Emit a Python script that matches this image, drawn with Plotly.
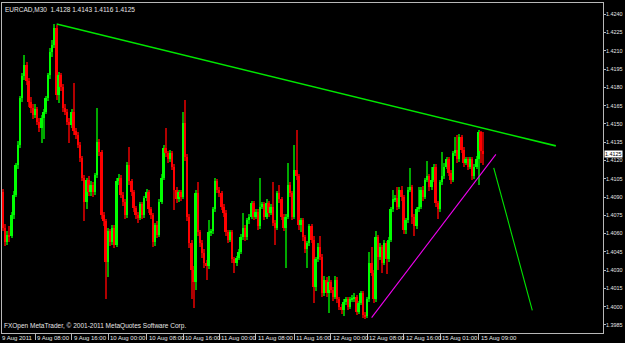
import numpy as np
import plotly.graph_objects as go

# EURCAD M30 bars (9 Aug 2011 -> 15 Aug 2011)
opens = [1.4094,1.4065,1.4053,1.4059,1.4058,1.4075,1.4092,1.4116,1.4133,1.4171,
 1.4189,1.4198,1.4185,1.4168,1.4163,1.4157,1.4162,1.4152,1.4147,1.4155,
 1.4160,1.4171,1.4190,1.4209,1.4215,1.4229,1.4174,1.4190,1.4180,1.4163,
 1.4160,1.4152,1.4149,1.4160,1.4144,1.4141,1.4133,1.4122,1.4106,1.4086,
 1.4104,1.4094,1.4100,1.4094,1.4108,1.4135,1.4127,1.4075,1.4070,1.4037,
 1.4062,1.4053,1.4065,1.4051,1.4103,1.4106,1.4092,1.4086,1.4075,1.4116,
 1.4103,1.4094,1.4081,1.4075,1.4073,1.4084,1.4075,1.4089,1.4094,1.4080,
 1.4075,1.4053,1.4067,1.4059,1.4086,1.4106,1.4130,1.4126,1.4121,1.4126,
 1.4115,1.4096,1.4088,1.4094,1.4090,1.4151,1.4123,1.4074,1.4052,1.4030,
 1.4020,1.4093,1.4061,1.4052,1.4044,1.4036,1.4033,1.4061,1.4062,1.4080,
 1.4103,1.4096,1.4093,1.4082,1.4077,1.4061,1.4055,1.4061,1.4039,1.4036,
 1.4040,1.4045,1.4057,1.4065,1.4057,1.4071,1.4074,1.4085,1.4074,1.4078,
 1.4066,1.4082,1.4084,1.4074,1.4085,1.4077,1.4082,1.4069,1.4065,1.4093,
 1.4088,1.4074,1.4065,1.4074,1.4100,1.4093,1.4074,1.4112,1.4107,1.4067,
 1.4071,1.4057,1.4047,1.4052,1.4066,1.4055,1.4016,1.4039,1.4049,1.4041,
 1.4011,1.4022,1.4011,1.4020,1.4014,1.4008,1.4022,1.4006,1.4000,1.3997,
 1.4004,1.4006,1.4000,1.4006,1.4007,1.4008,1.3996,1.4003,1.4011,1.3993,
 1.3992,1.4006,1.4036,1.4028,1.4006,1.4057,1.4041,1.4049,1.4036,1.4052,
 1.4039,1.4055,1.4080,1.4088,1.4089,1.4082,1.4096,1.4090,1.4063,1.4071,
 1.4096,1.4098,1.4074,1.4066,1.4080,1.4082,1.4096,1.4090,1.4104,1.4107,
 1.4098,1.4104,1.4115,1.4085,1.4080,1.4102,1.4107,1.4115,1.4121,1.4110,
 1.4104,1.4126,1.4129,1.4121,1.4139,1.4129,1.4118,1.4121,1.4115,1.4121,
 1.4107,1.4115,1.4121,1.4143,1.4128]

closes = [1.4065,1.4053,1.4059,1.4058,1.4075,1.4092,1.4116,1.4133,1.4171,1.4189,
 1.4198,1.4185,1.4168,1.4163,1.4157,1.4162,1.4152,1.4147,1.4155,1.4160,
 1.4171,1.4190,1.4209,1.4215,1.4229,1.4174,1.4190,1.4180,1.4163,1.4160,
 1.4152,1.4149,1.4160,1.4144,1.4141,1.4133,1.4122,1.4106,1.4086,1.4104,
 1.4094,1.4100,1.4094,1.4108,1.4135,1.4127,1.4075,1.4070,1.4037,1.4062,
 1.4053,1.4065,1.4051,1.4103,1.4106,1.4092,1.4086,1.4075,1.4116,1.4103,
 1.4094,1.4081,1.4075,1.4073,1.4084,1.4075,1.4089,1.4094,1.4080,1.4075,
 1.4053,1.4067,1.4059,1.4086,1.4106,1.4130,1.4126,1.4121,1.4126,1.4115,
 1.4096,1.4088,1.4094,1.4090,1.4151,1.4123,1.4074,1.4052,1.4030,1.4020,
 1.4093,1.4061,1.4052,1.4044,1.4036,1.4033,1.4061,1.4062,1.4080,1.4103,
 1.4096,1.4093,1.4082,1.4077,1.4061,1.4055,1.4061,1.4039,1.4036,1.4040,
 1.4045,1.4057,1.4065,1.4057,1.4071,1.4074,1.4085,1.4074,1.4078,1.4066,
 1.4082,1.4084,1.4074,1.4085,1.4077,1.4082,1.4069,1.4065,1.4093,1.4088,
 1.4074,1.4065,1.4074,1.4100,1.4093,1.4074,1.4112,1.4107,1.4067,1.4071,
 1.4057,1.4047,1.4052,1.4066,1.4055,1.4016,1.4039,1.4049,1.4041,1.4011,
 1.4022,1.4011,1.4020,1.4014,1.4008,1.4022,1.4006,1.4000,1.3997,1.4004,
 1.4006,1.4000,1.4006,1.4007,1.4008,1.3996,1.4003,1.4011,1.3993,1.3992,
 1.4006,1.4036,1.4028,1.4006,1.4057,1.4041,1.4049,1.4036,1.4052,1.4039,
 1.4055,1.4080,1.4088,1.4089,1.4082,1.4096,1.4090,1.4063,1.4071,1.4096,
 1.4098,1.4074,1.4066,1.4080,1.4082,1.4096,1.4090,1.4104,1.4107,1.4098,
 1.4104,1.4115,1.4085,1.4080,1.4102,1.4107,1.4115,1.4121,1.4110,1.4104,
 1.4126,1.4129,1.4121,1.4139,1.4129,1.4118,1.4121,1.4115,1.4121,1.4107,
 1.4115,1.4121,1.4143,1.4128,1.4125]

highs = [1.4097,1.4068,1.4062,1.4066,1.4078,1.4095,1.4118,1.4136,1.4173,1.4192,
 1.4207,1.4201,1.4188,1.4172,1.4166,1.4166,1.4164,1.4155,1.4157,1.4162,
 1.4173,1.4192,1.4212,1.4219,1.4232,1.4231,1.4193,1.4192,1.4183,1.4166,
 1.4162,1.4155,1.4162,1.4184,1.4147,1.4143,1.4135,1.4124,1.4108,1.4106,
 1.4107,1.4103,1.4102,1.4110,1.4163,1.4138,1.4129,1.4078,1.4072,1.4065,
 1.4064,1.4067,1.4067,1.4106,1.4109,1.4108,1.4094,1.4088,1.4119,1.4131,
 1.4105,1.4096,1.4083,1.4078,1.4086,1.4086,1.4091,1.4097,1.4096,1.4082,
 1.4077,1.4069,1.4070,1.4088,1.4109,1.4133,1.4147,1.4128,1.4129,1.4128,
 1.4117,1.4098,1.4096,1.4096,1.4160,1.4170,1.4125,1.4076,1.4055,1.4033,
 1.4096,1.4102,1.4063,1.4055,1.4047,1.4038,1.4071,1.4064,1.4082,1.4106,
 1.4105,1.4098,1.4095,1.4084,1.4079,1.4063,1.4063,1.4063,1.4041,1.4042,
 1.4047,1.4060,1.4077,1.4067,1.4073,1.4076,1.4087,1.4087,1.4080,1.4080,
 1.4106,1.4086,1.4086,1.4088,1.4087,1.4084,1.4102,1.4071,1.4095,1.4100,
 1.4090,1.4076,1.4076,1.4118,1.4102,1.4095,1.4133,1.4145,1.4109,1.4073,
 1.4073,1.4059,1.4054,1.4068,1.4068,1.4058,1.4041,1.4052,1.4058,1.4043,
 1.4025,1.4024,1.4025,1.4022,1.4016,1.4025,1.4024,1.4008,1.4002,1.4006,
 1.4008,1.4008,1.4008,1.4010,1.4011,1.4010,1.4005,1.4013,1.4013,1.3996,
 1.4008,1.4045,1.4049,1.4030,1.4062,1.4059,1.4052,1.4051,1.4055,1.4054,
 1.4057,1.4082,1.4096,1.4092,1.4098,1.4098,1.4099,1.4092,1.4073,1.4098,
 1.4114,1.4100,1.4076,1.4082,1.4098,1.4098,1.4099,1.4106,1.4120,1.4109,
 1.4115,1.4117,1.4117,1.4087,1.4104,1.4127,1.4118,1.4123,1.4123,1.4112,
 1.4128,1.4139,1.4141,1.4142,1.4141,1.4131,1.4123,1.4123,1.4123,1.4123,
 1.4117,1.4124,1.4145,1.4144,1.4143]

lows = [1.4062,1.4050,1.4051,1.4053,1.4056,1.4072,1.4090,1.4113,1.4130,1.4168,
 1.4186,1.4182,1.4164,1.4159,1.4154,1.4155,1.4149,1.4143,1.4134,1.4138,
 1.4158,1.4169,1.4187,1.4205,1.4212,1.4170,1.4167,1.4177,1.4160,1.4157,
 1.4149,1.4134,1.4147,1.4141,1.4138,1.4130,1.4119,1.4103,1.4070,1.4080,
 1.4091,1.4091,1.4090,1.4092,1.4106,1.4124,1.4072,1.4066,1.4006,1.4024,
 1.4050,1.4051,1.4048,1.4049,1.4100,1.4089,1.4083,1.4072,1.4073,1.4100,
 1.4091,1.4078,1.4072,1.4069,1.4071,1.4072,1.4073,1.4087,1.4077,1.4072,
 1.4049,1.4050,1.4056,1.4057,1.4084,1.4104,1.4123,1.4118,1.4119,1.4112,
 1.4079,1.4085,1.4086,1.4087,1.4088,1.4120,1.4070,1.4048,1.4006,1.3999,
 1.4014,1.4058,1.4049,1.4040,1.4032,1.4022,1.4031,1.4058,1.4060,1.4078,
 1.4093,1.4090,1.4079,1.4074,1.4058,1.4052,1.4053,1.4036,1.4028,1.4033,
 1.4038,1.4043,1.4055,1.4054,1.4055,1.4068,1.4072,1.4071,1.4072,1.4063,
 1.4064,1.4080,1.4071,1.4072,1.4074,1.4075,1.4066,1.4051,1.4063,1.4085,
 1.4071,1.4062,1.4032,1.4072,1.4090,1.4071,1.4072,1.4104,1.4063,1.4061,
 1.4054,1.4044,1.4032,1.4050,1.4052,1.4003,1.4013,1.4037,1.4038,1.4008,
 1.4009,1.4008,1.3995,1.4011,1.4005,1.4006,1.4003,1.3997,1.3994,1.3992,
 1.4001,1.3997,1.3998,1.4004,1.4004,1.3993,1.3994,1.4001,1.3991,1.3990,
 1.3991,1.4004,1.4025,1.4003,1.4004,1.4030,1.4038,1.4028,1.4034,1.4027,
 1.4037,1.4053,1.4078,1.4086,1.4079,1.4080,1.4087,1.4060,1.4060,1.4069,
 1.4094,1.4068,1.4058,1.4064,1.4078,1.4080,1.4087,1.4088,1.4102,1.4095,
 1.4096,1.4102,1.4082,1.4072,1.4078,1.4100,1.4105,1.4113,1.4107,1.4101,
 1.4102,1.4124,1.4118,1.4119,1.4126,1.4115,1.4116,1.4112,1.4113,1.4104,
 1.4105,1.4113,1.4100,1.4118,1.4116]

# Drawn objects: (bar index, price) endpoints
resistance_x = [25, 258]
resistance_y = [1.4232, 1.4132]
support_x = [172, 230]
support_y = [1.3991, 1.4125]
projection_x = [229, 247]
projection_y = [1.4114, 1.3997]

y_ticks = [1.3985, 1.4000, 1.4015, 1.4030, 1.4045, 1.4060, 1.4075, 1.4090, 1.4105,
           1.4120, 1.4135, 1.4150, 1.4165, 1.4180, 1.4195, 1.4210, 1.4225, 1.4240]
x_tick_idx = [15, 32, 49, 67, 84, 101, 118, 136, 153, 170, 187, 204, 222]
x_tick_text = ["9 Aug 08:00", "9 Aug 16:00", "10 Aug 00:00", "10 Aug 08:00",
               "10 Aug 16:00", "11 Aug 00:00", "11 Aug 08:00", "11 Aug 16:00",
               "12 Aug 00:00", "12 Aug 08:00", "12 Aug 16:00", "15 Aug 01:00",
               "15 Aug 09:00"]
first_label = "9 Aug 2011"
symbol_title = "EURCAD,M30  1.4128 1.4143 1.4116 1.4125"
copyright_text = "FXOpen MetaTrader, \u00a9 2001-2011 MetaQuotes Software Corp."
last_price = 1.4125

o = np.array(opens); c = np.array(closes); h = np.array(highs); l = np.array(lows)
idx = np.arange(len(o))
up = c >= o
body_base = np.minimum(o, c)
body_h = np.maximum(np.abs(c - o), 0.00008)
body_col = np.where(up, "#00ff00", "#ff0000")
wick_col = np.where(up, "#00a800", "#b00000")

FONT = "Liberation Sans, Arial, sans-serif"
TXT = "#e6e6e6"
FRAME = "#b8b8b8"
FS = 6
YFS = 5.4

fig = go.Figure()
fig.add_trace(go.Bar(x=idx, y=h - l, base=l, width=0.5,
                     marker=dict(color=wick_col, line=dict(width=0)),
                     hoverinfo="skip", showlegend=False))
fig.add_trace(go.Bar(x=idx, y=body_h, base=body_base, width=0.92,
                     marker=dict(color=body_col, line=dict(width=0)),
                     hoverinfo="skip", showlegend=False))
fig.add_trace(go.Scatter(x=resistance_x, y=resistance_y, mode="lines",
                         line=dict(color="#00e600", width=1.6),
                         hoverinfo="skip", showlegend=False))
fig.add_trace(go.Scatter(x=support_x, y=support_y, mode="lines",
                         line=dict(color="#f000f0", width=1.1),
                         hoverinfo="skip", showlegend=False))
fig.add_trace(go.Scatter(x=projection_x, y=projection_y, mode="lines",
                         line=dict(color="#00e600", width=1.1),
                         hoverinfo="skip", showlegend=False))

annotations = []
for xi, t in zip(x_tick_idx, x_tick_text):
    annotations.append(dict(x=xi, y=0, xref="x", yref="paper", text=t,
                            showarrow=False, xanchor="left", yanchor="top",
                            xshift=0, yshift=0,
                            font=dict(family=FONT, size=FS, color=TXT)))
annotations.append(dict(x=0, y=0, xref="paper", yref="paper", text=first_label,
                        showarrow=False, xanchor="left", yanchor="top",
                        xshift=-2, yshift=0,
                        font=dict(family=FONT, size=FS, color=TXT)))
annotations.append(dict(x=0, y=1, xref="paper", yref="paper", text=symbol_title,
                        showarrow=False, xanchor="left", yanchor="top",
                        xshift=1, yshift=-1,
                        font=dict(family=FONT, size=6.5, color=TXT)))
annotations.append(dict(x=0, y=0, xref="paper", yref="paper", text=copyright_text,
                        showarrow=False, xanchor="left", yanchor="bottom",
                        xshift=0, yshift=1,
                        font=dict(family=FONT, size=6.5, color=TXT)))
annotations.append(dict(x=1, y=last_price, xref="paper", yref="y",
                        text=f"{last_price:.4f}", showarrow=False,
                        xanchor="left", yanchor="middle", xshift=1,
                        bgcolor="#ffffff", borderpad=0,
                        font=dict(family=FONT, size=YFS, color="#000000")))

fig.update_layout(
    width=625, height=343,
    margin=dict(l=2, r=22, t=3, b=10, autoexpand=False),
    paper_bgcolor="#000000", plot_bgcolor="#000000",
    barmode="overlay", bargap=0,
    showlegend=False,
    annotations=annotations,
    xaxis=dict(range=[-0.5, 280], showgrid=False, zeroline=False,
               showline=True, linecolor=FRAME, linewidth=1, mirror=True,
               tickvals=x_tick_idx, ticks="outside", ticklen=6, tickcolor=FRAME,
               showticklabels=False, fixedrange=True, automargin=False),
    yaxis=dict(range=[1.39784, 1.42493], showgrid=False, zeroline=False,
               side="right", showline=True, linecolor=FRAME, linewidth=1,
               mirror=True, tickvals=y_ticks,
               ticktext=[f"{v:.4f}" for v in y_ticks],
               ticks="outside", ticklen=2, tickcolor=FRAME,
               ticklabelstandoff=-1,
               tickfont=dict(family=FONT, size=YFS, color=TXT),
               fixedrange=True, automargin=False),
)

fig.write_html("out.html")
